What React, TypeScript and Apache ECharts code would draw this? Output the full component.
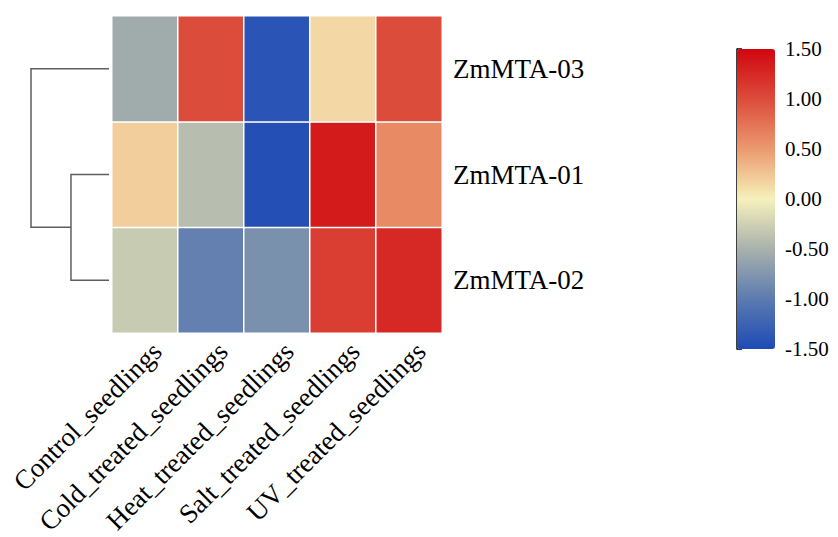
import React, { useEffect, useRef } from "react";
import * as echarts from "echarts";

// Samples (columns) and genes (rows, listed bottom to top)
const samples = [
  "Control_seedlings",
  "Cold_treated_seedlings",
  "Heat_treated_seedlings",
  "Salt_treated_seedlings",
  "UV_treated_seedlings",
];
const genes = ["ZmMTA-02", "ZmMTA-01", "ZmMTA-03"];

// Row-scaled expression values, one array per gene
const zmMTA03 = [-0.55, 1.0, -1.4, 0.15, 1.0];
const zmMTA01 = [0.2, -0.4, -1.45, 1.35, 0.6];
const zmMTA02 = [-0.3, -0.95, -0.8, 1.1, 1.25];

// Colour scale stops from -1.5 to 1.5
const scaleColors = ["#1e4ab6", "#5b7bb0", "#a8b1ac", "#f6f1bb", "#eb9a6e", "#dc4c3b", "#d0060f"];

// Hierarchical clustering of rows: [childA position, childB position, childA height, childB height, merge height]
const dendroLinks = [
  [1, 0, 0, 0, 1.95],
  [2, 0.5, 0, 1.95, 4.0],
];
const dendroMax = 4.0;

const FONT = "'Liberation Serif', 'Times New Roman', serif";

export default function App() {
  const ref = useRef<HTMLDivElement>(null);

  useEffect(() => {
    document.body.style.margin = "0";
    const chart = echarts.init(ref.current!, undefined, { renderer: "svg" });

    const rowsByGene: Record<string, number[]> = {
      "ZmMTA-02": zmMTA02,
      "ZmMTA-01": zmMTA01,
      "ZmMTA-03": zmMTA03,
    };
    const cells: number[][] = [];
    genes.forEach((g, yi) => {
      rowsByGene[g].forEach((v, xi) => cells.push([xi, yi, v]));
    });

    chart.setOption({
      animation: false,
      backgroundColor: "#ffffff",
      textStyle: { fontFamily: FONT, color: "#000" },
      grid: [
        { left: 112, top: 16, width: 330, height: 317, outerBoundsMode: "none", containLabel: false },
        { left: 31, top: 16, width: 78, height: 317, outerBoundsMode: "none", containLabel: false },
        { left: 737, top: 49, width: 39, height: 300, outerBoundsMode: "none", containLabel: false },
      ],
      xAxis: [
        {
          type: "category",
          gridIndex: 0,
          data: samples,
          axisLine: { show: false },
          axisTick: { show: false },
          splitLine: { show: false },
          axisLabel: {
            interval: 0,
            rotate: 45,
            margin: 2,
            verticalAlign: "top",
            lineHeight: 34,
            fontSize: 27,
            fontFamily: FONT,
            color: "#000",
          },
        },
        {
          type: "value",
          gridIndex: 1,
          min: 0,
          max: dendroMax,
          inverse: true,
          show: false,
        },
        { type: "value", gridIndex: 2, show: false },
      ],
      yAxis: [
        {
          type: "category",
          gridIndex: 0,
          data: genes,
          position: "right",
          axisLine: { show: false },
          axisTick: { show: false },
          splitLine: { show: false },
          axisLabel: {
            margin: 11,
            fontSize: 27,
            fontFamily: FONT,
            color: "#000",
          },
        },
        {
          type: "value",
          gridIndex: 1,
          min: -0.5,
          max: genes.length - 0.5,
          show: false,
        },
        {
          type: "value",
          gridIndex: 2,
          position: "right",
          min: -1.5,
          max: 1.5,
          interval: 0.5,
          splitLine: { show: false },
          axisLine: { show: true, lineStyle: { color: "#000", width: 1.5 } },
          axisTick: { show: true, length: 5, lineStyle: { color: "#000", width: 1.5 } },
          axisLabel: {
            margin: 9,
            fontSize: 21,
            fontFamily: "'Liberation Serif', serif",
            color: "#000",
            formatter: (v: number) => v.toFixed(2),
          },
        },
      ],
      visualMap: {
        type: "continuous",
        min: -1.5,
        max: 1.5,
        calculable: false,
        seriesIndex: 0,
        orient: "vertical",
        left: 737,
        top: 49,
        padding: 0,
        itemWidth: 38,
        itemHeight: 300,
        text: null,
        showLabel: false,
        inRange: { color: scaleColors },
      },
      series: [
        {
          type: "heatmap",
          xAxisIndex: 0,
          yAxisIndex: 0,
          data: cells,
          itemStyle: { borderColor: "#ffffff", borderWidth: 1.5 },
          label: { show: false },
          emphasis: { disabled: true },
        },
        {
          type: "custom",
          xAxisIndex: 1,
          yAxisIndex: 1,
          data: dendroLinks,
          silent: true,
          renderItem: (params: any, api: any) => {
            const yA = api.value(0);
            const yB = api.value(1);
            const hA = api.value(2);
            const hB = api.value(3);
            const h = api.value(4);
            const pts = [
              api.coord([hA, yA]),
              api.coord([h, yA]),
              api.coord([h, yB]),
              api.coord([hB, yB]),
            ];
            return {
              type: "polyline",
              shape: { points: pts },
              style: { stroke: "#5f5f5f", lineWidth: 1.5, fill: "none" },
            };
          },
        },
      ],
    });

    return () => chart.dispose();
  }, []);

  return <div ref={ref} style={{ width: 838, height: 537 }} />;
}
